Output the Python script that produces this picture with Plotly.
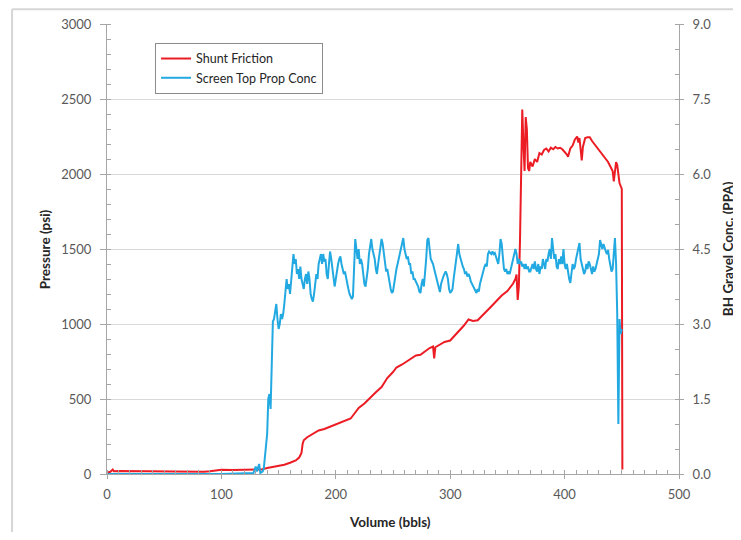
import plotly.graph_objects as go

# Shunt Friction (psi) vs volume (bbls)
red_vol = [0, 3, 5, 6, 10, 30, 60, 85, 90, 95, 100, 110, 120, 130, 135, 140, 150, 155, 160, 165,
           168, 170, 171, 172, 175, 180, 185, 190, 195, 200, 205, 210, 213, 216, 220, 225, 230, 235,
           240, 245, 250, 253, 258, 262, 266, 270, 274, 278, 282, 285, 286, 287, 290, 295, 300, 305,
           309, 312, 316, 320, 324, 327, 330, 335, 340, 345, 350, 355, 357, 358, 359, 360, 361, 362,
           363, 364, 365, 366, 367, 368, 369, 370, 372, 374, 376, 378, 380, 382, 384, 386, 388, 390,
           392, 394, 396, 398, 400, 402, 403, 405, 407, 409, 411, 412, 413, 414, 415, 416, 418, 420,
           422, 424, 426, 428, 430, 432, 434, 436, 438, 440, 442, 443, 444, 445, 446, 447, 448, 449,
           450, 450.5]
red_psi = [10, 15, 30, 18, 20, 18, 16, 15, 18, 25, 28, 27, 28, 28, 30, 40, 55, 62, 75, 90,
           110, 140, 200, 225, 245, 270, 290, 300, 315, 330, 345, 360, 370, 400, 440, 470, 510, 545,
           580, 640, 680, 710, 730, 750, 770, 790, 795, 820, 840, 850, 770, 845, 860, 880, 890, 930,
           960, 990, 1030, 1020, 1025, 1050, 1075, 1110, 1150, 1190, 1220, 1270, 1300, 1330, 1160, 1250, 1550, 2000,
           2430, 2200, 2020, 2380, 2300, 2040, 2020, 2080, 2050, 2100, 2080, 2140, 2130, 2160, 2170, 2150, 2175, 2165,
           2180, 2170, 2175, 2165, 2150, 2130, 2115, 2170, 2190, 2230, 2250, 2210, 2240, 2160, 2090, 2180, 2240, 2245,
           2245, 2220, 2200, 2180, 2160, 2140, 2120, 2100, 2080, 2050, 2020, 1950, 2000, 2080, 2060, 2000, 1940, 1920,
           1900, 30]

# Screen Top Prop Conc (PPA) vs volume (bbls)
blue_vol = [0, 100, 128, 130, 131, 133, 134, 136, 137, 139, 140, 141, 142, 143, 144, 145, 146, 147, 148, 149,
            150, 151, 152, 153, 154, 155, 156, 157, 158, 159, 160, 161, 162, 163, 164, 165, 166, 167, 168, 169,
            170, 171, 172, 173, 174, 175, 176, 177, 178, 179, 180, 181, 182, 183, 184, 185, 186, 187, 188, 189,
            190, 191, 192, 193, 194, 195, 196, 197, 198, 199, 200, 201, 202, 203, 204, 205, 206, 207, 208, 209,
            210, 211, 212, 213, 214, 215, 216, 217, 218, 219, 220, 221, 222, 223, 224, 225, 226, 227, 228, 229,
            230, 231, 232, 233, 234, 235, 236, 237, 238, 239, 240, 241, 242, 243, 244, 245, 246, 247, 248, 249,
            250, 251, 252, 253, 254, 255, 256, 257, 258, 259, 260, 261, 262, 263, 264, 265, 266, 267, 268, 269,
            270, 271, 272, 273, 274, 275, 276, 277, 278, 279, 280, 281, 282, 283, 284, 285, 286, 287, 288, 289,
            290, 291, 292, 293, 294, 295, 296, 297, 298, 299, 300, 301, 302, 303, 304, 305, 306, 307, 308, 309,
            310, 311, 312, 313, 314, 315, 316, 317, 318, 319, 320, 321, 322, 323, 324, 325, 326, 327, 328, 329,
            330, 331, 332, 333, 334, 335, 336, 337, 338, 339, 340, 341, 342, 343, 344, 345, 346, 347, 348, 349,
            350, 351, 352, 353, 354, 355, 356, 357, 358, 359, 360, 361, 362, 363, 364, 365, 366, 367, 368, 369,
            370, 371, 372, 373, 374, 375, 376, 377, 378, 379, 380, 381, 382, 383, 384, 385, 386, 387, 388, 389,
            390, 391, 392, 393, 394, 395, 396, 397, 398, 399, 400, 401, 402, 403, 404, 405, 406, 407, 408, 409,
            410, 411, 412, 413, 414, 415, 416, 417, 418, 419, 420, 421, 422, 423, 424, 425, 426, 427, 428, 429,
            430, 431, 432, 433, 434, 435, 436, 437, 438, 439, 440, 441, 442, 443, 444, 445, 446, 447, 448, 449,
            450]
blue_ppa = [0, 0, 0.02, 0.15, 0.05, 0.2, 0.02, 0.05, 0.1, 0.6, 0.8, 1.5, 1.6, 1.3, 2.5, 3.05, 3.1, 3.3, 3.4, 3.1,
            2.9, 3.0, 3.2, 3.1, 3.2, 3.4, 3.7, 3.9, 3.7, 3.8, 3.6, 3.9, 4.1, 4.4, 4.2, 4.3, 4.0, 4.1, 3.9, 4.15,
            3.9, 3.8, 3.7, 3.9, 4.0, 3.8, 4.05, 3.9, 3.6, 3.5, 3.45, 3.6, 3.8, 4.0, 3.9, 4.2, 4.3, 4.4, 4.2, 4.4,
            4.25, 4.3, 4.0, 3.9, 4.2, 4.45, 4.3, 4.1, 3.9, 3.75, 3.9, 4.1, 4.2, 4.3, 4.35, 4.2, 4.1, 4.0, 4.05, 3.9,
            3.8, 3.7, 3.6, 3.55, 3.5, 3.55, 4.0, 4.7, 4.5, 4.3, 4.5, 4.2, 4.3, 4.2, 4.0, 3.8, 3.75, 3.9, 4.1, 4.4,
            4.55, 4.7, 4.5, 4.4, 4.3, 4.1, 4.0, 4.2, 4.4, 4.5, 4.7, 4.6, 4.4, 4.2, 4.05, 4.1, 3.95, 3.8, 3.7, 3.62,
            3.65, 3.8, 4.0, 4.1, 4.2, 4.3, 4.4, 4.5, 4.6, 4.72, 4.5, 4.4, 4.3, 4.35, 4.2, 4.2, 4.0, 4.05, 3.9, 3.9,
            3.85, 3.8, 3.75, 3.65, 3.62, 3.8, 3.9, 3.75, 4.0, 4.3, 4.68, 4.72, 4.5, 4.3, 4.25, 4.2, 4.1, 4.0, 3.9, 3.8,
            3.7, 3.64, 3.8, 3.9, 3.95, 4.0, 4.05, 4.0, 3.9, 3.7, 3.62, 3.65, 3.7, 3.9, 4.1, 4.3, 4.5, 4.6, 4.4, 4.3,
            4.2, 4.15, 4.1, 4.0, 4.05, 3.95, 4.0, 3.95, 3.85, 3.8, 3.75, 3.7, 3.65, 3.62, 3.7, 3.65, 3.8, 3.9, 4.0, 4.1,
            4.15, 4.2, 4.15, 4.4, 4.45, 4.42, 4.4, 4.45, 4.4, 4.42, 4.35, 4.3, 4.2, 4.4, 4.7, 4.6, 4.3, 4.1, 4.05, 4.1,
            4.0, 4.05, 4.0, 4.1, 4.2, 4.3, 4.4, 4.5, 4.4, 4.2, 4.3, 4.2, 4.25, 4.15, 4.2, 4.1, 4.2, 4.1, 4.15, 4.05,
            4.05, 4.15, 4.2, 4.1, 4.25, 4.1, 4.05, 4.2, 4.0, 4.15, 4.1, 4.3, 4.2, 4.1, 4.3, 4.25, 4.4, 4.5, 4.3, 4.72,
            4.5, 4.3, 4.4, 4.15, 4.1, 4.3, 4.2, 4.35, 4.2, 4.5, 4.2, 4.1, 4.2, 4.0, 3.9, 3.82, 4.1, 4.2, 4.1, 4.15,
            4.3, 4.4, 4.55, 4.62, 4.3, 4.2, 4.1, 4.0, 4.05, 4.2, 4.1, 4.25, 4.2, 4.1, 4.0, 4.15, 4.05, 4.1, 4.2, 4.3,
            4.4, 4.68, 4.55, 4.5, 4.6, 4.5, 4.45, 4.4, 4.48, 4.3, 4.2, 4.05, 4.1, 4.5, 4.72, 4.2, 3.2, 1.0, 3.1, 2.8,
            2.9]

x_ticks = [0, 100, 200, 300, 400, 500]
left_ticks = [0, 500, 1000, 1500, 2000, 2500, 3000]
right_ticks = [0.0, 1.5, 3.0, 4.5, 6.0, 7.5, 9.0]

FONT = "Lato, 'Open Sans', sans-serif"
AXIS_COLOR = "#a6a6a6"
TICK_FONT = dict(family=FONT, size=13, color="#595959")
TITLE_FONT = dict(family=FONT, size=13.5, color="#262626")

fig = go.Figure()
fig.add_trace(go.Scatter(x=red_vol, y=red_psi, mode="lines", name="Shunt Friction",
                         line=dict(color="#ec1c24", width=2)))
fig.add_trace(go.Scatter(x=blue_vol, y=blue_ppa, mode="lines", name="Screen Top Prop Conc",
                         line=dict(color="#22a9e1", width=2), yaxis="y2"))

fig.update_layout(
    width=733, height=524,
    margin=dict(l=99, r=62, t=16, b=58, autoexpand=False),
    paper_bgcolor="white", plot_bgcolor="white",
    showlegend=True,
    legend=dict(x=0.084, y=0.958, xanchor="left", yanchor="top",
                bgcolor="white", bordercolor="#8c8c8c", borderwidth=1,
                font=dict(family=FONT, size=12.5, color="#262626"),
                itemwidth=30, tracegroupgap=0),
    xaxis=dict(range=[0, 500], tickvals=x_ticks, ticktext=[str(v) for v in x_ticks],
               automargin=False,
               showgrid=False, zeroline=False, showline=True, linecolor=AXIS_COLOR, linewidth=1,
               ticks="outside", ticklen=4, tickcolor=AXIS_COLOR, tickfont=TICK_FONT,
               ticklabelstandoff=4,
               minor=dict(dtick=10, ticks="inside", ticklen=4, tickcolor=AXIS_COLOR, showgrid=False)),
    yaxis=dict(range=[0, 3000], tickvals=left_ticks, ticktext=[str(v) for v in left_ticks],
               automargin=False,
               showgrid=True, gridcolor="#d9d9d9", gridwidth=1, zeroline=False,
               showline=True, linecolor=AXIS_COLOR, linewidth=1,
               ticks="outside", ticklen=6, tickcolor=AXIS_COLOR, tickfont=TICK_FONT,
               ticklabelstandoff=6,
               minor=dict(dtick=100, ticks="inside", ticklen=4, tickcolor=AXIS_COLOR, showgrid=False)),
    yaxis2=dict(range=[0, 9], overlaying="y", side="right",
                automargin=False,
                tickvals=right_ticks, ticktext=["%.1f" % v for v in right_ticks],
                showgrid=False, zeroline=False, showline=True, linecolor=AXIS_COLOR, linewidth=1,
                ticks="outside", ticklen=4, tickcolor=AXIS_COLOR, tickfont=TICK_FONT,
                ticklabelstandoff=6,
                minor=dict(dtick=0.5, ticks="inside", ticklen=4, tickcolor=AXIS_COLOR, showgrid=False)),
    annotations=[
        dict(text="<b>Volume (bbls)</b>", xref="paper", yref="paper", x=0.495, y=-0.107,
             xanchor="center", yanchor="middle", showarrow=False, font=TITLE_FONT),
        dict(text="<b>Pressure (psi)</b>", xref="paper", yref="paper", x=-0.108, y=0.5,
             xanchor="center", yanchor="middle", showarrow=False, font=TITLE_FONT, textangle=-90),
        dict(text="<b>BH Gravel Conc. (PPA)</b>", xref="paper", yref="paper", x=1.086, y=0.5,
             xanchor="center", yanchor="middle", showarrow=False, font=TITLE_FONT, textangle=-90),
    ],
    shapes=[
        dict(type="line", xref="paper", yref="paper", x0=-0.166, x1=1.2, y0=1.033, y1=1.033,
             line=dict(color="#d6d6d6", width=2), layer="below"),
        dict(type="line", xref="paper", yref="paper", x0=-0.166, x1=-0.166, y0=1.033, y1=-0.2,
             line=dict(color="#d6d6d6", width=2), layer="below"),
    ],
)

fig.write_html("out.html")
